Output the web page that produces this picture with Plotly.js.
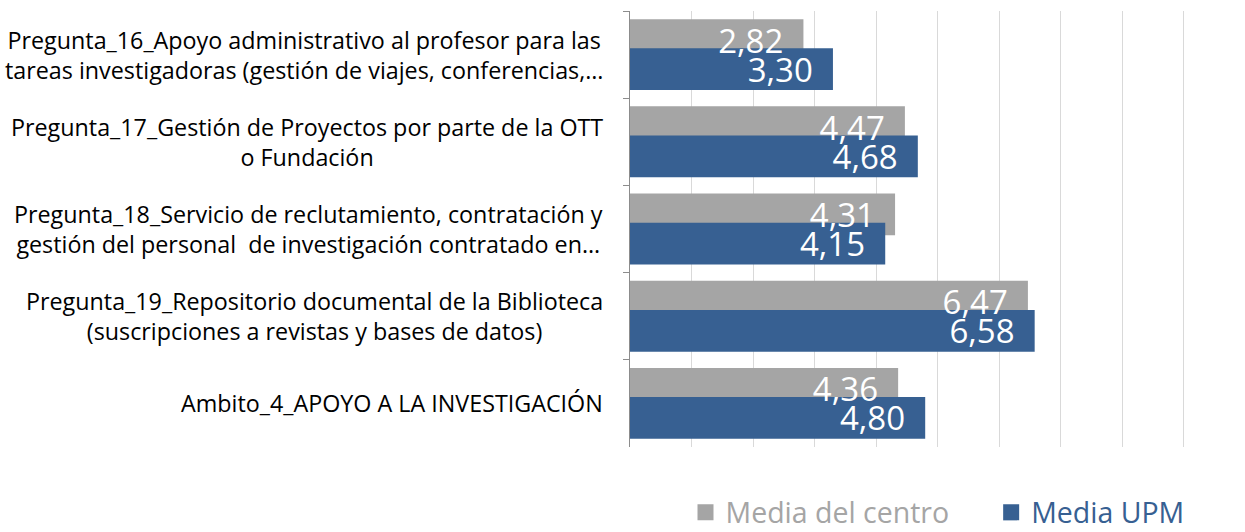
<!DOCTYPE html>
<html>
<head>
<meta charset="utf-8">
<script src="https://cdn.plot.ly/plotly-3.0.1.min.js"></script>
<style>html,body{margin:0;padding:0;background:#fff;}#chart{width:1245px;height:532px;}</style>
</head>
<body>
<div id="chart"></div>
<script>
var categories = [
  "Pregunta_16_Apoyo administrativo al profesor para las<br>tareas investigadoras (gestión de viajes, conferencias,…",
  "Pregunta_17_Gestión de Proyectos por parte de la OTT<br>o Fundación",
  "Pregunta_18_Servicio de reclutamiento, contratación y<br>gestión del personal  de investigación contratado en…",
  "Pregunta_19_Repositorio documental de la Biblioteca<br>(suscripciones a revistas y bases de datos)",
  "Ambito_4_APOYO A LA INVESTIGACIÓN"
];
var seriesNames = ["Media del centro", "Media UPM"];
var mediaCentro = [2.82, 4.47, 4.31, 6.47, 4.36];
var mediaUPM = [3.30, 4.68, 4.15, 6.58, 4.80];
var colors = ["#a5a5a5", "#376092"];

var FONT = "'Open Sans', 'Noto Sans', sans-serif";
var BAR_W = 0.479;
var OFFSETS = [-0.4065, -0.0725];
var NBSP = "\u00a0";

function barTrace(vals, i, withText, transparent) {
  var t = {
    type: "bar",
    orientation: "h",
    y: categories,
    x: vals,
    width: BAR_W,
    offset: OFFSETS[i],
    marker: {color: transparent ? "rgba(0,0,0,0)" : colors[i], line: {width: 0}},
    showlegend: false,
    hoverinfo: "x",
    cliponaxis: false
  };
  if (withText) {
    t.texttemplate = "%{x:.2f}" + NBSP + NBSP;
    t.textposition = "inside";
    t.insidetextanchor = "end";
    t.constraintext = "none";
    t.textfont = {color: "#ffffff", size: 33, family: FONT};
  } else {
    t.textposition = "none";
  }
  return t;
}

function legendTrace(i, suffix) {
  return {
    type: "scatter",
    mode: "markers",
    x: [null], y: [null],
    name: '<span style="color:' + colors[i] + '">' + seriesNames[i] + suffix + '</span>',
    marker: {symbol: "square", size: 16, color: colors[i]},
    showlegend: true,
    hoverinfo: "skip"
  };
}

var data = [
  barTrace(mediaCentro, 0, false, false),
  barTrace(mediaUPM, 1, true, false),
  barTrace(mediaCentro, 0, true, true),
  legendTrace(0, NBSP + NBSP + NBSP + NBSP + NBSP),
  legendTrace(1, "")
];

var annotations = categories.map(function (c) {
  return {
    xref: "paper", yref: "y",
    x: -0.04, y: c,
    xanchor: "right", yanchor: "middle",
    align: "center",
    text: c,
    showarrow: false,
    font: {family: FONT, size: 23.3, color: "#000000"}
  };
});

var layout = {
  width: 1245, height: 532,
  margin: {l: 630, r: 0, t: 11, b: 85, pad: 0, autoexpand: false},
  paper_bgcolor: "#ffffff",
  plot_bgcolor: "#ffffff",
  separators: ",.",
  barmode: "overlay",
  font: {family: FONT},
  xaxis: {
    range: [0, 10],
    dtick: 1,
    tick0: 0,
    showgrid: true,
    gridcolor: "#d9d9d9",
    gridwidth: 1,
    zeroline: false,
    showticklabels: false,
    ticks: "",
    showline: false,
    fixedrange: true
  },
  yaxis: {
    type: "category",
    autorange: "reversed",
    showticklabels: false,
    showline: true,
    linecolor: "#8c8c8c",
    linewidth: 1,
    ticks: "outside",
    tickson: "boundaries",
    ticklen: 6,
    tickcolor: "#8c8c8c",
    showgrid: false,
    zeroline: false,
    fixedrange: true
  },
  showlegend: true,
  legend: {
    orientation: "h",
    xref: "paper",
    x: 0.5, xanchor: "center",
    yref: "container",
    y: 0.036, yanchor: "middle",
    font: {family: FONT, size: 28.5, color: "#595959"},
    itemwidth: 30,
    tracegroupgap: 0
  },
  annotations: annotations
};

Plotly.newPlot("chart", data, layout, {displayModeBar: false, staticPlot: true});
</script>
</body>
</html>
